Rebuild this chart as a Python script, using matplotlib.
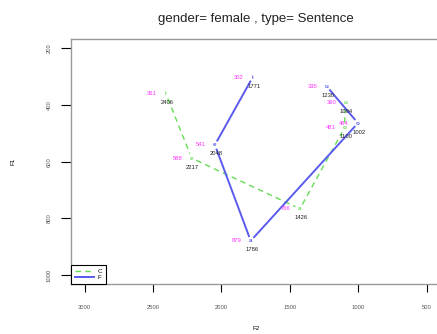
import numpy as np
import matplotlib
matplotlib.use("Agg")
import matplotlib.pyplot as plt

# vowel formants, two groups
vowels = ["i", "e", "a", "o", "u"]
c_f2 = [2406, 2217, 1426, 1100, 1094]
c_f1 = [361, 588, 766, 481, 390]
f_f2 = [1771, 2048, 1786, 1002, 1230]
f_f1 = [302, 541, 879, 464, 335]

x_ticks = [3000, 2500, 2000, 1500, 1000, 500]
y_ticks = [200, 400, 600, 800, 1000]

green = "#66dd55"
blue = "#5a5aee"
pink = "#ff33ff"

plt.rcParams['font.family'] = ['Liberation Sans', 'DejaVu Sans']

fig = plt.figure(figsize=(4.37, 3.34), dpi=100)
ax = fig.add_axes([0.1625, 0.149, 0.845, 0.734])
ax.set_xlim(3100, 400)
ax.set_ylim(1032, 168)


def gapped(xs, ys, gap=5):
    pts = ax.transData.transform(np.column_stack([xs, ys]))
    segs = []
    for p, q in zip(pts[:-1], pts[1:]):
        d = q - p
        n = np.hypot(d[0], d[1])
        u = d / n
        a = ax.transData.inverted().transform(p + u * gap)
        b = ax.transData.inverted().transform(q - u * gap)
        segs.append((a, b))
    return segs


for (a, b) in gapped(c_f2, c_f1):
    ax.plot([a[0], b[0]], [a[1], b[1]], color=green, lw=1.0, ls=(0, (4, 3)))
for (a, b) in gapped(f_f2, f_f1):
    ax.plot([a[0], b[0]], [a[1], b[1]], color=blue, lw=1.4)

for f2s, f1s, col in [(c_f2, c_f1, green), (f_f2, f_f1, blue)]:
    for v, x, y in zip(vowels, f2s, f1s):
        ax.text(x, y, v, color=col, fontsize=4.5, ha='center', va='center',
                fontweight='bold')
        ax.annotate(str(y), (x, y), xytext=(-14, 0), textcoords='offset pixels',
                    color=pink, fontsize=4.2, ha='center', va='center')
        ax.annotate(str(x), (x, y), xytext=(1, -9), textcoords='offset pixels',
                    color='#222222', fontsize=4.2, ha='center', va='center')

# legend proxies
ax.plot([], [], color=green, lw=1.0, ls=(0, (4, 3)), label="C")
ax.plot([], [], color=blue, lw=1.4, label="F")
leg = ax.legend(loc='lower left', borderaxespad=0, fancybox=False,
                edgecolor='black', framealpha=1, fontsize=4.5,
                handlelength=3, handletextpad=0.6, borderpad=0.6,
                labelspacing=0.2)
leg.get_frame().set_linewidth(0.8)

ax.set_xticks(x_ticks)
ax.set_yticks(y_ticks)
ax.tick_params(axis='x', length=6, width=0.8, pad=9, labelsize=4.2,
               labelcolor='#555555')
ax.tick_params(axis='y', length=7, width=0.8, pad=7, labelsize=4.2,
               labelcolor='#555555', labelrotation=90)
for lab in ax.get_yticklabels():
    lab.set_va('center')
for s in ax.spines.values():
    s.set_color('#999999')
    s.set_linewidth(1.0)

ax.set_title("gender= female , type= Sentence", fontsize=9.5, pad=12,
             color='#222222')
ax.set_xlabel("F2", fontsize=4.5)
ax.set_ylabel("F1", fontsize=4.5)
ax.xaxis.set_label_coords(0.5, -0.17)
ax.yaxis.set_label_coords(-0.15, 0.5)

fig.savefig("out.png", dpi=100)
